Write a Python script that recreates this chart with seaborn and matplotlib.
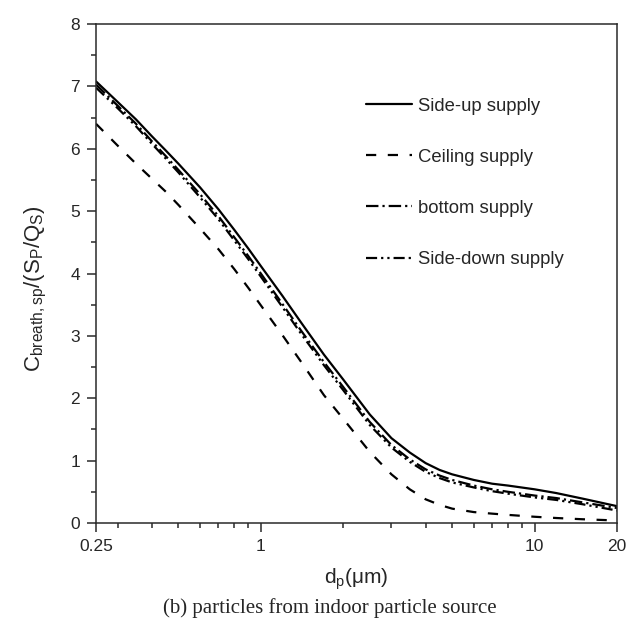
import numpy as np
import pandas as pd
import matplotlib
matplotlib.use("Agg")
import matplotlib.pyplot as plt
from matplotlib.ticker import FixedLocator, NullFormatter, FixedFormatter, MultipleLocator
import seaborn as sns

# ---------------- data ----------------
dp = [0.25, 0.3, 0.35, 0.4, 0.45, 0.5, 0.6, 0.7, 0.8, 0.9, 1.0, 1.2, 1.4, 1.7, 2.0,
      2.5, 3.0, 3.5, 4.0, 4.5, 5.0, 6.0, 7.0, 8.0, 10.0, 12.0, 15.0, 20.0]

side_up = [7.08, 6.75, 6.47, 6.20, 5.97, 5.76, 5.38, 5.03, 4.70, 4.40, 4.12, 3.64, 3.22, 2.70, 2.30,
           1.74, 1.36, 1.13, 0.96, 0.85, 0.78, 0.69, 0.63, 0.60, 0.54, 0.48, 0.39, 0.27]
ceiling = [6.40, 6.05, 5.76, 5.52, 5.31, 5.10, 4.72, 4.39, 4.07, 3.77, 3.49, 3.01, 2.59, 2.05, 1.67,
           1.14, 0.78, 0.54, 0.38, 0.29, 0.23, 0.175, 0.15, 0.13, 0.10, 0.08, 0.06, 0.04]
bottom = [7.03, 6.69, 6.40, 6.12, 5.88, 5.66, 5.27, 4.92, 4.58, 4.28, 4.00, 3.51, 3.09, 2.58, 2.18,
          1.62, 1.25, 1.02, 0.86, 0.76, 0.69, 0.60, 0.54, 0.50, 0.44, 0.40, 0.33, 0.24]
side_down = [6.98, 6.65, 6.36, 6.08, 5.84, 5.62, 5.22, 4.87, 4.53, 4.23, 3.95, 3.46, 3.04, 2.53, 2.13,
             1.57, 1.21, 0.98, 0.82, 0.72, 0.65, 0.57, 0.51, 0.47, 0.41, 0.37, 0.30, 0.20]

series_names = ["Side-up supply", "Ceiling supply", "bottom supply", "Side-down supply"]
series_values = [side_up, ceiling, bottom, side_down]

x_tick_values = [0.25, 1, 10, 20]
x_tick_labels = ["0.25", "1", "10", "20"]
y_ticks = [0, 1, 2, 3, 4, 5, 6, 7, 8]

# ---------------- build table ----------------
frames = []
for name, vals in zip(series_names, series_values):
    frames.append(pd.DataFrame({"dp": dp, "C": vals, "series": name}))
df = pd.concat(frames, ignore_index=True)

# ---------------- style ----------------
sns.set_style("ticks")
plt.rcParams["font.family"] = ["Liberation Sans", "DejaVu Sans"]
plt.rcParams["mathtext.fontset"] = "custom"
plt.rcParams["mathtext.rm"] = "Liberation Sans"
plt.rcParams["mathtext.it"] = "Liberation Sans:italic"
plt.rcParams["mathtext.bf"] = "Liberation Sans:bold"

fig = plt.figure(figsize=(6.30, 6.28), dpi=100)
ax = fig.add_axes([96 / 630, 1 - 523 / 628, (617 - 96) / 630, (523 - 24) / 628])

lw = 1.6
dash_map = {
    "Side-up supply": "",
    "Ceiling supply": (4.6, 5.2),
    "bottom supply": (5.6, 1.8, 1.0, 1.8),
    "Side-down supply": (5.0, 1.8, 1.0, 1.8, 1.0, 1.8),
}
sns.lineplot(data=df, x="dp", y="C", style="series", style_order=series_names,
             dashes=dash_map, color="black", linewidth=lw, ax=ax, legend=False,
             estimator=None, sort=True)

ax.set_xscale("log")
ax.set_xlim(0.25, 20)
ax.set_ylim(0, 8)

ax.xaxis.set_major_locator(FixedLocator(x_tick_values))
ax.xaxis.set_major_formatter(FixedFormatter(x_tick_labels))
minor_x = [0.3, 0.4, 0.5, 0.6, 0.7, 0.8, 0.9, 2, 3, 4, 5, 6, 7, 8, 9]
ax.xaxis.set_minor_locator(FixedLocator(minor_x))
ax.xaxis.set_minor_formatter(NullFormatter())
ax.yaxis.set_major_locator(FixedLocator(y_ticks))
ax.yaxis.set_minor_locator(MultipleLocator(0.5))

spine_color = "#2a2a2a"
for s in ax.spines.values():
    s.set_visible(True)
    s.set_linewidth(1.1)
    s.set_color(spine_color)

ax.tick_params(which="major", direction="out", length=6.5, width=1.1, color=spine_color,
               labelsize=12.5, pad=5, top=False, right=False)
ax.tick_params(which="minor", direction="out", length=3.5, width=1.1, color=spine_color,
               top=False, right=False)

ax.set_xlabel(r"$\mathrm{d_p(\mu m)}$", fontsize=15, labelpad=9)
ax.set_ylabel(r"$\mathrm{C_{breath,sp}/(S_P/Q_S)}$", fontsize=16)
ax.yaxis.set_label_coords(-0.09, 0.47)

leg = ax.legend(handles=ax.lines[:4], labels=series_names, loc="upper left",
                bbox_to_anchor=(0.486, 0.886), frameon=False, fontsize=13.3,
                handlelength=2.5, handletextpad=0.3, labelspacing=1.85)

fig.text(0.523, 0.032, "(b) particles from indoor particle source",
         family=["Liberation Serif", "DejaVu Serif"], fontsize=15, ha="center", va="center")

fig.savefig("out.png", dpi=100, facecolor="white")
